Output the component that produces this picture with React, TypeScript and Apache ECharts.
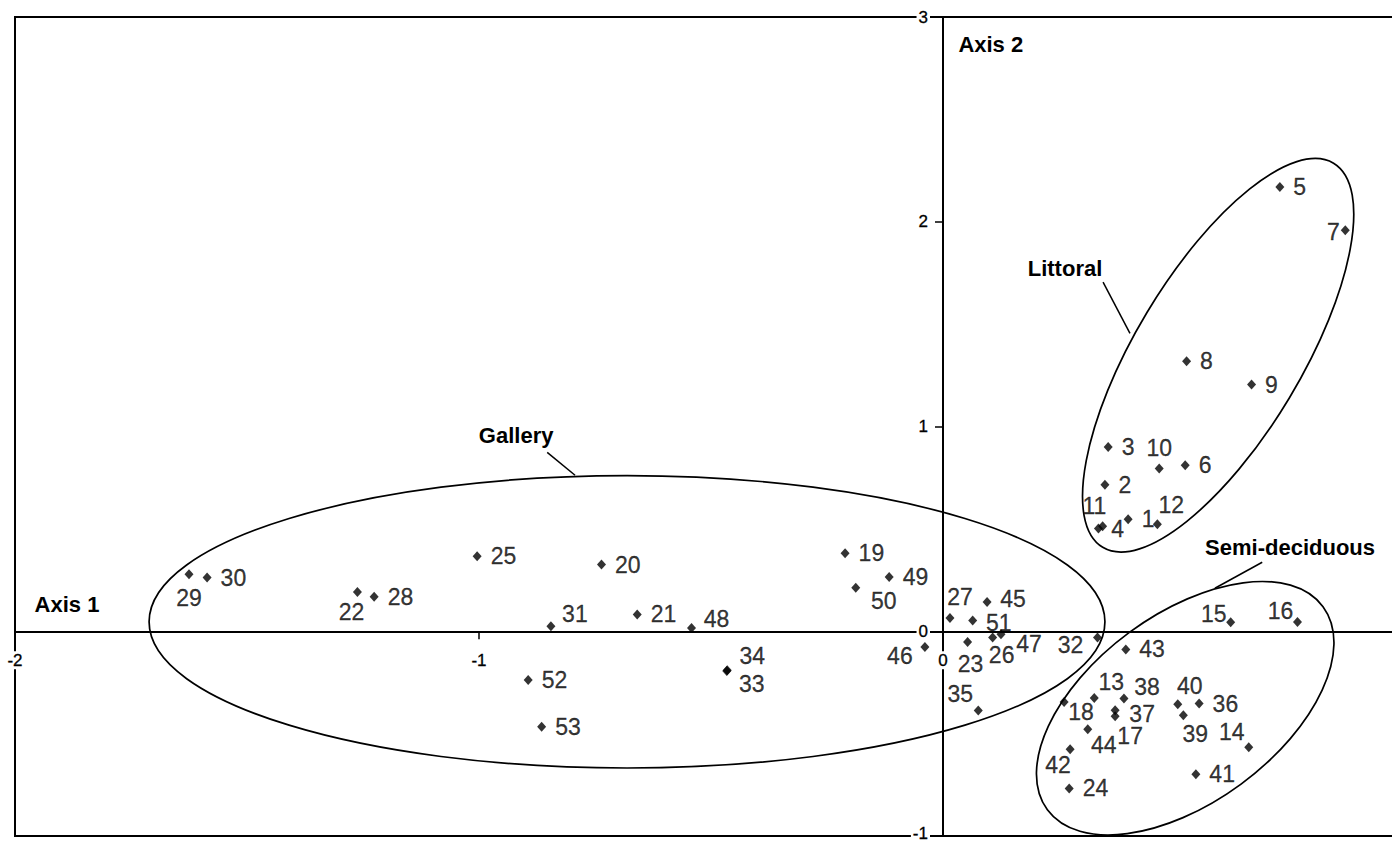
import React, { useEffect, useRef } from "react";
import * as echarts from "echarts";

// ---- data ----
const siteIds = [
  "1", "2", "3", "4", "5", "6", "7", "8", "9", "10",
  "11", "12", "13", "14", "15", "16", "17", "18", "19", "20",
  "21", "22", "23", "24", "25", "26", "27", "28", "29", "30",
  "31", "32", "33", "34", "35", "36", "37", "38", "39", "40",
  "41", "42", "43", "44", "45", "46", "47", "48", "49", "50",
  "51", "52", "53",
];
const axis1Scores = [
  0.399, 0.349, 0.356, 0.344, 0.726, 0.522, 0.867, 0.525, 0.665, 0.466,
  0.335, 0.462, 0.326, 0.659, 0.62, 0.764, 0.371, 0.261, -0.211, -0.736,
  -0.659, -1.262, 0.053, 0.272, -1.004, 0.107, 0.015, -1.226, -1.625, -1.586,
  -0.845, 0.333, -0.466, -0.465, 0.076, 0.552, 0.371, 0.39, 0.518, 0.506,
  0.545, 0.274, 0.394, 0.312, 0.095, -0.039, 0.125, -0.542, -0.116, -0.188,
  0.064, -0.894, -0.865,
];
const axis2Scores = [
  0.547, 0.716, 0.9, 0.513, 2.17, 0.811, 1.958, 1.319, 1.205, 0.795,
  0.502, 0.523, -0.326, -0.567, 0.044, 0.045, -0.415, -0.345, 0.381, 0.326,
  0.082, 0.192, -0.052, -0.768, 0.366, -0.031, 0.065, 0.169, 0.278, 0.262,
  0.024, -0.031, -0.194, -0.19, -0.387, -0.353, -0.386, -0.329, -0.41, -0.357,
  -0.698, -0.576, -0.089, -0.479, 0.143, -0.077, -0.015, 0.016, 0.265, 0.213,
  0.052, -0.238, -0.467,
];

// group envelopes (centre in axis units, semi-axes in axis-1 units, tilt in degrees)
const groupNames = ["Gallery", "Littoral", "Semi-deciduous"];
const groupCentreX = [-0.681, 0.593, 0.522];
const groupCentreY = [0.046, 1.348, -0.376];
const groupSemiMajor = [1.03, 0.483, 0.369];
const groupSemiMinor = [0.315, 0.179, 0.203];
const groupTilt = [0, 59, 36.4];
const groupLabelX = [-0.92, 0.263, 0.748];
const groupLabelY = [0.957, 1.773, 0.41];
const leaderFromX = [-0.853, 0.345, 0.688];
const leaderFromY = [0.874, 1.705, 0.337];
const leaderToX = [-0.793, 0.403, 0.586];
const leaderToY = [0.762, 1.455, 0.21];

const axisTitles = ["Axis 1", "Axis 2"];
const axisTitleX = [-1.888, 0.103];
const axisTitleY = [0.132, 2.867];

const xTickValues = [-2, -1, 0];
const yTickValues = [-1, 0, 1, 2, 3];
const xMin = -2;
const xMax = 0.972;
const yMin = -1;
const yMax = 3;
const tickStep = 1;

// ---- label layout (r = right of marker, otherwise centre offset in px) ----
const labelLayout: Record<string, "r" | [number, number]> = {
  "1": "r", "2": "r", "3": "r", "4": [15, 3], "5": "r", "6": "r", "7": [-12, 2],
  "8": "r", "9": "r", "10": [0, -20], "11": [-4, -22], "12": [14, -19],
  "13": [17, -16], "14": [-17, -15], "15": [-17, -8], "16": [-17, -11],
  "17": [15, 20], "18": [17, 10], "19": "r", "20": "r", "21": "r",
  "22": [-6, 20], "23": [3, 22], "24": "r", "25": "r", "26": [9, 17],
  "27": [10, -21], "28": "r", "29": [0, 24], "30": "r", "31": [24, -12],
  "32": [-27, 7], "33": [25, 13], "34": [25, -14], "35": [-18, -16],
  "36": "r", "37": [27, 4], "38": [23, -12], "39": [12, 19], "40": [12, -18],
  "41": "r", "42": [-12, 16], "43": "r", "44": [16, 16], "45": [26, -3],
  "46": [-25, 9], "47": [28, 10], "48": [25, -9], "49": "r", "50": [28, 13],
  "51": [26, 2], "52": "r", "53": "r",
};

const FONT = '"Liberation Sans", Arial, Helvetica, sans-serif';
const TICK_FONT_SIZE = 17;

function labelFor(id: string) {
  const l = labelLayout[id];
  if (l === "r" || !l) return { position: "right", distance: 9 };
  return { position: "inside", offset: l };
}

function tickTextWidth(s: string) {
  let w = 0;
  for (const ch of s) w += ch === "-" ? 0.333 : 0.556;
  return w * TICK_FONT_SIZE;
}

export default function App() {
  const ref = useRef<HTMLDivElement>(null);

  useEffect(() => {
    if (!ref.current) return;
    const chart = echarts.init(ref.current, undefined, { renderer: "svg" });

    const points = siteIds.map((id, i) => ({
      name: id,
      value: [axis1Scores[i], axis2Scores[i]],
      label: labelFor(id),
    }));

    const ellipses = groupNames.map((n, i) => ({
      name: n,
      value: [groupCentreX[i], groupCentreY[i], groupSemiMajor[i], groupSemiMinor[i], groupTilt[i]],
    }));

    const leaders = groupNames.map((n, i) => ({
      name: n,
      value: [leaderFromX[i], leaderFromY[i], leaderToX[i], leaderToY[i]],
    }));

    const texts = [
      ...groupNames.map((n, i) => ({ name: n, value: [groupLabelX[i], groupLabelY[i]] })),
      ...axisTitles.map((n, i) => ({ name: n, value: [axisTitleX[i], axisTitleY[i]] })),
    ];

    const tickLabels = [
      ...xTickValues.map((v) => ({ name: String(v), value: [v, 0, 0] })),
      ...yTickValues.map((v) => ({ name: String(v), value: [0, v, 1] })),
    ];

    const option: any = {
      animation: false,
      backgroundColor: "#fff",
      grid: {
        left: 15,
        right: -2,
        top: 17,
        bottom: 8,
        show: true,
        borderColor: "#000",
        borderWidth: 2,
        backgroundColor: "transparent",
        containLabel: false,
        outerBoundsMode: "none",
      },
      xAxis: {
        type: "value", min: xMin, max: xMax, interval: tickStep, z: 0,
        axisLine: { show: true, onZero: true, lineStyle: { color: "#000", width: 2 } },
        axisTick: { show: true, length: 8, lineStyle: { color: "#000", width: 1.5 } },
        axisLabel: { show: false },
        splitLine: { show: false },
      },
      yAxis: {
        type: "value", min: yMin, max: yMax, interval: tickStep, z: 0, position: "left",
        axisLine: { show: true, onZero: true, lineStyle: { color: "#000", width: 2 } },
        axisTick: { show: true, length: 8, lineStyle: { color: "#000", width: 1.5 } },
        axisLabel: { show: false },
        splitLine: { show: false },
      },
      series: [
        {
          type: "custom",
          name: "envelopes",
          silent: true,
          z: 2,
          encode: { x: 0, y: 1 },
          data: ellipses,
          renderItem: (_p: any, api: any) => {
            const c = api.coord([api.value(0), api.value(1)]);
            const unit = api.size([1, 0])[0];
            return {
              type: "ellipse",
              x: c[0],
              y: c[1],
              rotation: (api.value(4) * Math.PI) / 180,
              shape: { cx: 0, cy: 0, rx: api.value(2) * unit, ry: api.value(3) * unit },
              style: { fill: "none", stroke: "#000", lineWidth: 1.7 },
            };
          },
        },
        {
          type: "custom",
          name: "leaders",
          silent: true,
          z: 2,
          encode: { x: [0, 2], y: [1, 3] },
          data: leaders,
          renderItem: (_p: any, api: any) => {
            const a = api.coord([api.value(0), api.value(1)]);
            const b = api.coord([api.value(2), api.value(3)]);
            return {
              type: "line",
              shape: { x1: a[0], y1: a[1], x2: b[0], y2: b[1] },
              style: { stroke: "#000", lineWidth: 1.5 },
            };
          },
        },
        {
          type: "custom",
          name: "tickLabels",
          silent: true,
          z: 5,
          encode: { x: 0, y: 1 },
          data: tickLabels,
          renderItem: (p: any, api: any) => {
            const c = api.coord([api.value(0), api.value(1)]);
            const isY = api.value(2) === 1;
            const txt = tickLabels[p.dataIndex].name;
            const w = tickTextWidth(txt) + 4;
            const h = TICK_FONT_SIZE + 1;
            const yPos = isY ? Math.min(c[1], api.getHeight() - 11) : c[1] + 29;
            return {
              type: "group",
              x: isY ? c[0] - 15 : c[0],
              y: yPos,
              children: [
                {
                  type: "rect",
                  shape: { x: isY ? -w + 2 : -w / 2, y: -h / 2, width: w, height: h },
                  style: { fill: "#fff" },
                },
                {
                  type: "text",
                  x: 0,
                  y: 0,
                  style: {
                    text: txt,
                    fill: "#000",
                    fontSize: TICK_FONT_SIZE,
                    fontFamily: FONT,
                    align: isY ? "right" : "center",
                    verticalAlign: "middle",
                    textAlign: isY ? "right" : "center",
                    textVerticalAlign: "middle",
                    stroke: "#000",
                    lineWidth: 0.3,
                  },
                },
              ],
            };
          },
        },
        {
          type: "custom",
          name: "titles",
          silent: true,
          z: 4,
          encode: { x: 0, y: 1 },
          data: texts,
          renderItem: (p: any, api: any) => {
            const c = api.coord([api.value(0), api.value(1)]);
            return {
              type: "text",
              x: c[0],
              y: c[1],
              style: {
                text: texts[p.dataIndex].name,
                fill: "#000",
                fontSize: 22,
                fontWeight: "bold",
                fontFamily: FONT,
                align: "center",
                verticalAlign: "middle",
                textAlign: "center",
                textVerticalAlign: "middle",
              },
            };
          },
        },
        {
          type: "scatter",
          name: "sites",
          z: 3,
          symbol: "diamond",
          symbolSize: [9, 10],
          itemStyle: { color: "#000" },
          label: {
            show: true,
            formatter: "{b}",
            fontSize: 23,
            lineHeight: 24,
            fontFamily: FONT,
            color: "#000",
            textBorderColor: "#000",
            textBorderWidth: 0.3,
          },
          data: points,
        },
      ],
    };

    chart.setOption(option);
    return () => chart.dispose();
  }, []);

  return (
    <div
      ref={ref}
      style={{ position: "fixed", left: 0, top: 0, width: 1392, height: 844, background: "#fff" }}
    />
  );
}
